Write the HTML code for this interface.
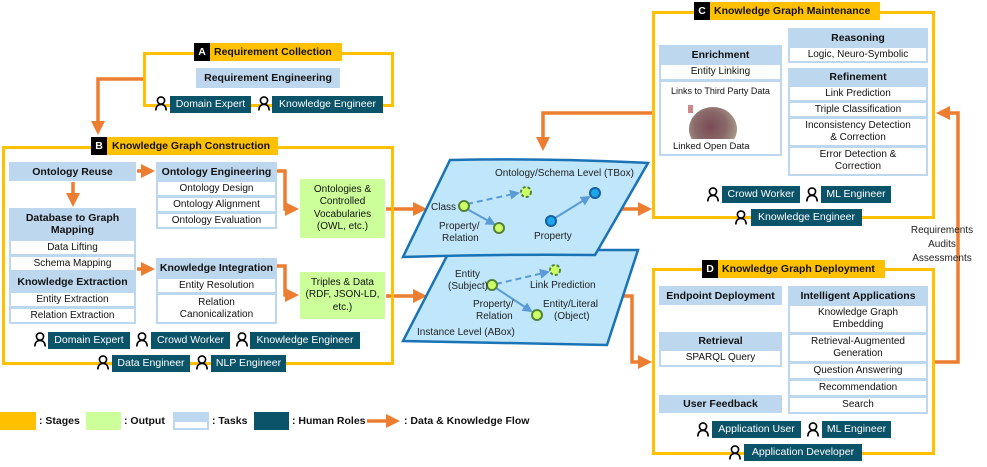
<!DOCTYPE html>
<html><head><meta charset="utf-8"><style>
*{box-sizing:border-box;margin:0;padding:0}
body{width:987px;height:467px;background:#fff;position:relative;overflow:hidden;font-family:"Liberation Sans",sans-serif;font-size:10px;color:#111}
.a{position:absolute}
.stage{position:absolute;border:3px solid #ffc000}
.title{position:absolute;background:#ffc000;font-weight:bold;font-size:10.5px;line-height:18px;height:18px;padding-left:20px;padding-right:6px;white-space:nowrap}
.title b{position:absolute;left:0;top:0;width:16px;height:18px;background:#000;color:#fff;text-align:center}
.h{position:absolute;background:#bdd7ee;font-weight:bold;font-size:10.5px;text-align:center;display:flex;align-items:center;justify-content:center;line-height:12px}
.t{position:absolute;background:#fff;border:2px solid #bdd7ee;border-top:1px solid #bdd7ee;font-size:10px;text-align:center;display:flex;align-items:center;justify-content:center;line-height:12px}
.o{position:absolute;background:#ccff99;font-size:10px;text-align:center;display:flex;align-items:center;justify-content:center;line-height:12.5px}
.r{position:absolute;background:#0b5369;color:#fff;font-size:10.5px;height:17px;line-height:17px;text-align:center;white-space:nowrap}
.lg{position:absolute;font-weight:bold;font-size:10.5px;top:415px}
</style></head><body>

<svg class="a" style="left:0;top:0" width="987" height="467">
<defs>
<marker id="ar" markerWidth="4" markerHeight="4" refX="2" refY="2" orient="auto" markerUnits="strokeWidth"><path d="M0,0L4,2L0,4z" fill="#ed7d31"/></marker>
<marker id="bl" markerWidth="5" markerHeight="5" refX="4" refY="2.5" orient="auto" markerUnits="strokeWidth"><path d="M0,0L5,2.5L0,5z" fill="#5b9bd5"/></marker>
</defs>
<g fill="none" stroke="#ed7d31" stroke-width="3.5">
<polyline points="143,79 98,79 98,128" marker-end="url(#ar)"/>
<line x1="73" y1="182" x2="73" y2="200" marker-end="url(#ar)"/>
<line x1="137" y1="171" x2="148" y2="171" marker-end="url(#ar)"/>
<line x1="137" y1="269" x2="148" y2="269" marker-end="url(#ar)"/>
<polyline points="277,171 285,171 285,209 292,209" marker-end="url(#ar)"/>
<polyline points="277,266 285,266 285,295 292,295" marker-end="url(#ar)"/>
<line x1="386" y1="209" x2="420" y2="209" marker-end="url(#ar)"/>
<line x1="386" y1="296" x2="420" y2="296" marker-end="url(#ar)"/>
<polyline points="652,113 543,113 543,144" marker-end="url(#ar)"/>
<line x1="621" y1="209" x2="645" y2="209" marker-end="url(#ar)"/>
<polyline points="614,296 632,296 632,362 645,362" marker-end="url(#ar)"/>
<polyline points="934,362 958,362 958,113 943,113" marker-end="url(#ar)"/>
<line x1="367" y1="421" x2="393" y2="421" marker-end="url(#ar)"/>
</g>
<path d="M450,250 L638,250 L607,345 L403,341 Z" fill="#bfe6fb" stroke="#1a73b5" stroke-width="2.5"/>
<path d="M450,160 Q550,158 648,163 L595,255 Q500,254 403,257 Z" fill="#bfe6fb" stroke="#1a73b5" stroke-width="2.5"/>
<g stroke="#5b9bd5" stroke-width="2" fill="none">
<line x1="467" y1="204" x2="518" y2="193" stroke-dasharray="6,4" marker-end="url(#bl)"/>
<line x1="467" y1="209" x2="494" y2="224" marker-end="url(#bl)"/>
<line x1="555" y1="218" x2="589" y2="197" marker-end="url(#bl)"/>
<line x1="496" y1="284" x2="548" y2="272" stroke-dasharray="6,4" marker-end="url(#bl)"/>
<line x1="496" y1="288" x2="531" y2="311" marker-end="url(#bl)"/>
</g>
<g stroke-width="2">
<circle cx="464" cy="206" r="5" fill="#ccff66" stroke="#548235"/>
<circle cx="526" cy="192" r="5" fill="#ccff66" stroke="#548235" stroke-dasharray="3,2"/>
<circle cx="499" cy="228" r="5" fill="#ccff66" stroke="#548235"/>
<circle cx="551" cy="221" r="5" fill="#1aa7ec" stroke="#1a5fa0"/>
<circle cx="595" cy="193" r="5" fill="#1aa7ec" stroke="#1a5fa0"/>
<circle cx="492" cy="285" r="5" fill="#ccff66" stroke="#548235"/>
<circle cx="555" cy="270" r="5" fill="#ccff66" stroke="#548235" stroke-dasharray="3,2"/>
<circle cx="537" cy="315" r="5" fill="#ccff66" stroke="#548235"/>
</g>
<g font-family="Liberation Sans" font-size="10" fill="#222">
<text x="495" y="176">Ontology/Schema Level (TBox)</text>
<text x="431" y="210">Class</text>
<text x="439" y="229">Property/</text><text x="442" y="241">Relation</text>
<text x="534" y="239">Property</text>
<text x="455" y="277">Entity</text><text x="448" y="289">(Subject)</text>
<text x="530" y="288">Link Prediction</text>
<text x="473" y="307">Property/</text><text x="476" y="319">Relation</text>
<text x="543" y="307">Entity/Literal</text><text x="554" y="319">(Object)</text>
<text x="417" y="335">Instance Level (ABox)</text>
<text x="942" y="233" text-anchor="middle">Requirements</text>
<text x="942" y="247" text-anchor="middle">Audits</text>
<text x="942" y="261" text-anchor="middle">Assessments</text>
</g>
</svg>

<!-- Stage A -->
<div class="stage" style="left:143px;top:52px;width:251px;height:55px"></div>
<div class="title" style="left:194px;top:43px;width:148px"><b>A</b>Requirement Collection</div>
<div class="h" style="left:196px;top:68px;width:144px;height:20px">Requirement Engineering</div>

<!-- Stage B -->
<div class="stage" style="left:2px;top:146px;width:392px;height:219px"></div>
<div class="title" style="left:91px;top:137px;width:187px;padding-left:21px"><b>B</b>Knowledge Graph Construction</div>
<div class="h" style="left:9px;top:162px;width:127px;height:19px">Ontology Reuse</div>
<div class="h" style="left:9px;top:208px;width:127px;height:32px">Database to Graph<br>Mapping</div>
<div class="t" style="left:9px;top:240px;width:127px;height:16px">Data Lifting</div>
<div class="t" style="left:9px;top:256px;width:127px;height:16px">Schema Mapping</div>
<div class="h" style="left:9px;top:272px;width:127px;height:20px">Knowledge Extraction</div>
<div class="t" style="left:9px;top:292px;width:127px;height:16px">Entity Extraction</div>
<div class="t" style="left:9px;top:308px;width:127px;height:16px">Relation Extraction</div>
<div class="h" style="left:156px;top:162px;width:121px;height:19px">Ontology Engineering</div>
<div class="t" style="left:156px;top:181px;width:121px;height:16px">Ontology Design</div>
<div class="t" style="left:156px;top:197px;width:121px;height:16px">Ontology Alignment</div>
<div class="t" style="left:156px;top:213px;width:121px;height:16px">Ontology Evaluation</div>
<div class="h" style="left:156px;top:258px;width:121px;height:20px">Knowledge Integration</div>
<div class="t" style="left:156px;top:278px;width:121px;height:16px">Entity Resolution</div>
<div class="t" style="left:156px;top:294px;width:121px;height:30px">Relation<br>Canonicalization</div>
<div class="o" style="left:300px;top:179px;width:85px;height:59px">Ontologies &amp;<br>Controlled<br>Vocabularies<br>(OWL, etc.)</div>
<div class="o" style="left:300px;top:272px;width:85px;height:47px">Triples &amp; Data<br>(RDF, JSON-LD,<br>etc.)</div>

<!-- Stage C -->
<div class="stage" style="left:652px;top:11px;width:283px;height:208px"></div>
<div class="title" style="left:694px;top:2px;width:186px"><b>C</b>Knowledge Graph Maintenance</div>
<div class="h" style="left:659px;top:45px;width:123px;height:19px">Enrichment</div>
<div class="t" style="left:659px;top:64px;width:123px;height:17px">Entity Linking</div>
<div class="t" style="left:659px;top:81px;width:123px;height:75px;align-items:flex-start;padding-top:3px;font-size:9px">Links to Third Party Data</div>
<div class="a" style="left:688px;top:105px;width:50px;height:34px;overflow:hidden"><div style="position:absolute;left:1px;top:2px;width:48px;height:44px;border-radius:50%;background:radial-gradient(circle at 45% 45%,#7a4a55 0%,#8a6a6a 45%,#a99a8a 75%,#d8d0c0 100%)"></div><div style="position:absolute;left:0;top:0;width:5px;height:8px;background:#c88"></div></div>
<div class="a" style="left:673px;top:141px;font-size:9.5px">Linked Open Data</div>
<div class="h" style="left:788px;top:28px;width:140px;height:19px">Reasoning</div>
<div class="t" style="left:788px;top:47px;width:140px;height:16px">Logic, Neuro-Symbolic</div>
<div class="h" style="left:788px;top:68px;width:140px;height:18px">Refinement</div>
<div class="t" style="left:788px;top:86px;width:140px;height:16px">Link Prediction</div>
<div class="t" style="left:788px;top:102px;width:140px;height:16px">Triple Classification</div>
<div class="t" style="left:788px;top:118px;width:140px;height:29px">Inconsistency Detection<br>&amp; Correction</div>
<div class="t" style="left:788px;top:147px;width:140px;height:29px">Error Detection &amp;<br>Correction</div>

<!-- Stage D -->
<div class="stage" style="left:652px;top:268px;width:283px;height:187px"></div>
<div class="title" style="left:702px;top:260px;width:183px"><b>D</b>Knowledge Graph Deployment</div>
<div class="h" style="left:659px;top:286px;width:123px;height:19px">Endpoint Deployment</div>
<div class="h" style="left:659px;top:332px;width:123px;height:18px">Retrieval</div>
<div class="t" style="left:659px;top:350px;width:123px;height:17px">SPARQL Query</div>
<div class="h" style="left:659px;top:395px;width:123px;height:18px">User Feedback</div>
<div class="h" style="left:788px;top:286px;width:140px;height:19px">Intelligent Applications</div>
<div class="t" style="left:788px;top:305px;width:140px;height:29px">Knowledge Graph<br>Embedding</div>
<div class="t" style="left:788px;top:334px;width:140px;height:29px">Retrieval-Augmented<br>Generation</div>
<div class="t" style="left:788px;top:363px;width:140px;height:17px">Question Answering</div>
<div class="t" style="left:788px;top:380px;width:140px;height:17px">Recommendation</div>
<div class="t" style="left:788px;top:397px;width:140px;height:17px">Search</div>

<!-- roles -->
<div class="r" style="left:170px;top:96px;width:81px">Domain Expert</div>
<div class="r" style="left:272px;top:96px;width:111px">Knowledge Engineer</div>
<div class="r" style="left:48px;top:332px;width:82px">Domain Expert</div>
<div class="r" style="left:151px;top:332px;width:79px">Crowd Worker</div>
<div class="r" style="left:250px;top:332px;width:110px">Knowledge Engineer</div>
<div class="r" style="left:112px;top:355px;width:78px">Data Engineer</div>
<div class="r" style="left:211px;top:355px;width:75px">NLP Engineer</div>
<div class="r" style="left:722px;top:186px;width:78px">Crowd Worker</div>
<div class="r" style="left:821px;top:186px;width:70px">ML Engineer</div>
<div class="r" style="left:751px;top:209px;width:111px">Knowledge Engineer</div>
<div class="r" style="left:712px;top:421px;width:89px">Application User</div>
<div class="r" style="left:822px;top:421px;width:69px">ML Engineer</div>
<div class="r" style="left:744px;top:444px;width:118px">Application Developer</div>

<svg class="a" style="left:0;top:0" width="987" height="467" fill="#fff" stroke="#000" stroke-width="1.6">
<defs><g id="pp"><circle cx="6" cy="4.5" r="3.6"/><path d="M0.8,14.5 Q1,8.5 6,8.5 Q11,8.5 11.2,14.5"/></g></defs>
<use href="#pp" x="155" y="96"/><use href="#pp" x="258" y="96"/>
<use href="#pp" x="34" y="332"/><use href="#pp" x="136" y="332"/><use href="#pp" x="236" y="332"/>
<use href="#pp" x="97" y="355"/><use href="#pp" x="196" y="355"/>
<use href="#pp" x="707" y="187"/><use href="#pp" x="806" y="187"/><use href="#pp" x="735" y="210"/>
<use href="#pp" x="697" y="422"/><use href="#pp" x="807" y="422"/><use href="#pp" x="729" y="445"/>
</svg>

<!-- legend -->
<div class="a" style="left:0;top:412px;width:36px;height:18px;background:#ffc000"></div>
<div class="lg" style="left:39px">: Stages</div>
<div class="a" style="left:86px;top:412px;width:35px;height:18px;background:#ccff99"></div>
<div class="lg" style="left:124px">: Output</div>
<div class="a" style="left:173px;top:412px;width:36px;height:18px;background:#bdd7ee"><div style="position:absolute;left:2px;top:10px;width:32px;height:6px;background:#fff"></div></div>
<div class="lg" style="left:212px">: Tasks</div>
<div class="a" style="left:254px;top:412px;width:35px;height:18px;background:#0b5369"></div>
<div class="lg" style="left:292px">: Human Roles</div>
<div class="lg" style="left:404px">: Data &amp; Knowledge Flow</div>
</body></html>
